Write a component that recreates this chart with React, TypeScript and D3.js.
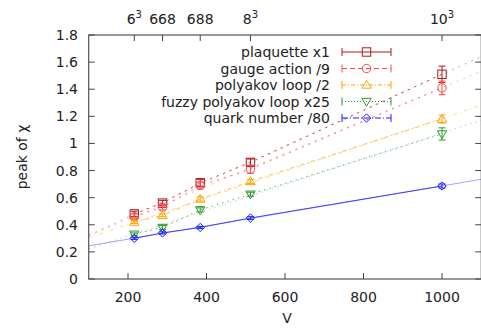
import React from "react";
import * as d3 from "d3";

const volumes = [216, 288, 384, 512, 1000];
const plaquette = [0.48, 0.56, 0.71, 0.86, 1.51];
const plaquetteErr = [0.02, 0.02, 0.025, 0.025, 0.06];
const gauge = [0.46, 0.53, 0.69, 0.81, 1.41];
const gaugeErr = [0.02, 0.02, 0.025, 0.03, 0.05];
const polyakov = [0.42, 0.47, 0.59, 0.72, 1.18];
const polyakovErr = [0.01, 0.01, 0.015, 0.015, 0.03];
const fuzzy = [0.33, 0.38, 0.51, 0.625, 1.07];
const fuzzyErr = [0.01, 0.015, 0.015, 0.015, 0.045];
const quark = [0.30, 0.34, 0.38, 0.45, 0.686];
const quarkErr = [0.008, 0.008, 0.008, 0.01, 0.015];

const xTicks = [200, 400, 600, 800, 1000];
const yTicks = [0, 0.2, 0.4, 0.6, 0.8, 1, 1.2, 1.4, 1.6, 1.8];
const topTicks = [216, 288, 384, 512, 1000];
const topLabels: [string, string][] = [["6", "3"], ["668", ""], ["688", ""], ["8", "3"], ["10", "3"]];

const seriesNames = ["plaquette x1", "gauge action /9", "polyakov loop /2", "fuzzy polyakov loop x25", "quark number /80"];

const W = 481;
const H = 329;
const FONT = "'DejaVu Sans', sans-serif";

type Series = {
  name: string;
  values: number[];
  errs: number[];
  color: string;
  legendDash: string;
  fitDash: string;
  marker: string;
};

const series: Series[] = [
  { name: seriesNames[0], values: plaquette, errs: plaquetteErr, color: "#b01818", legendDash: "", fitDash: "2,5", marker: "square" },
  { name: seriesNames[1], values: gauge, errs: gaugeErr, color: "#ff4a4a", legendDash: "5,3", fitDash: "2,5", marker: "circle" },
  { name: seriesNames[2], values: polyakov, errs: polyakovErr, color: "#ffa500", legendDash: "4,2,1,2", fitDash: "4,3,1,3", marker: "tri" },
  { name: seriesNames[3], values: fuzzy, errs: fuzzyErr, color: "#2a9a2a", legendDash: "1,2", fitDash: "1.5,4", marker: "tridown" },
  { name: seriesNames[4], values: quark, errs: quarkErr, color: "#1a1aff", legendDash: "6,2,1,2", fitDash: "", marker: "diamond" },
];

function linFit(xs: number[], ys: number[]) {
  const mx = d3.mean(xs) as number;
  const my = d3.mean(ys) as number;
  let num = 0, den = 0;
  xs.forEach((x, i) => { num += (x - mx) * (ys[i] - my); den += (x - mx) * (x - mx); });
  const b = num / den;
  return { a: my - b * mx, b };
}

function Marker({ type, x, y, color }: { type: string; x: number; y: number; color: string }) {
  const s = 4.2;
  if (type === "square") return <rect x={x - s} y={y - s} width={2 * s} height={2 * s} fill="none" stroke={color} strokeWidth={1} />;
  if (type === "circle") return <circle cx={x} cy={y} r={s} fill="none" stroke={color} strokeWidth={1} />;
  if (type === "tri") return <path d={`M${x},${y - s - 0.5}L${x + s + 0.5},${y + s - 1}L${x - s - 0.5},${y + s - 1}Z`} fill="none" stroke={color} strokeWidth={1} />;
  if (type === "tridown") return <path d={`M${x},${y + s + 0.5}L${x + s + 0.5},${y - s + 1}L${x - s - 0.5},${y - s + 1}Z`} fill="none" stroke={color} strokeWidth={1} />;
  return <path d={`M${x},${y - s}L${x + s},${y}L${x},${y + s}L${x - s},${y}Z`} fill="none" stroke={color} strokeWidth={1} />;
}

export default function App() {
  const x = d3.scaleLinear().domain([100, 1100]).range([88.75, 481.25]);
  const y = d3.scaleLinear().domain([0, 1.8]).range([279, 35]);
  const left = x(100), right = x(1100), top = y(1.8), bottom = y(0);
  const line = d3.line<[number, number]>().x(d => x(d[0])).y(d => y(d[1]));

  const legendX0 = 342, legendX1 = 391, legendTextX = 330;
  const legendY = (i: number) => 52 + i * 16.5;

  return (
    <svg width={W} height={H} style={{ position: "absolute", left: 0, top: 0, background: "#fff" }} fontFamily={FONT}>
      <defs>
        <clipPath id="plotclip"><rect x={left} y={top} width={right - left} height={bottom - top} /></clipPath>
      </defs>
      <g clipPath="url(#plotclip)">
        {series.map((s, i) => {
          const f = linFit(volumes, s.values);
          const pts: [number, number][] = [[100, f.a + f.b * 100], [1100, f.a + f.b * 1100]];
          return <path key={"fit" + i} d={line(pts) || ""} fill="none" stroke={s.color} strokeOpacity={0.4} strokeWidth={1} strokeDasharray={s.fitDash} />;
        })}
        {series.map((s, i) => {
          const pts: [number, number][] = volumes.map((v, j) => [v, s.values[j]]);
          return <path key={"dl" + i} d={line(pts) || ""} fill="none" stroke={s.color} strokeOpacity={0.75} strokeWidth={1} strokeDasharray={s.fitDash} />;
        })}
        {series.map((s, i) => (
          <g key={"pts" + i}>
            {volumes.map((v, j) => {
              const cx = x(v), cy = y(s.values[j]);
              const y1 = y(s.values[j] + s.errs[j]), y2 = y(s.values[j] - s.errs[j]);
              return (
                <g key={j}>
                  <line x1={cx} x2={cx} y1={y1} y2={y2} stroke={s.color} strokeWidth={1} />
                  <line x1={cx - 3.5} x2={cx + 3.5} y1={y1} y2={y1} stroke={s.color} strokeWidth={1} />
                  <line x1={cx - 3.5} x2={cx + 3.5} y1={y2} y2={y2} stroke={s.color} strokeWidth={1} />
                  <Marker type={s.marker} x={cx} y={cy} color={s.color} />
                </g>
              );
            })}
          </g>
        ))}
      </g>
      <rect x={left} y={top} width={right - left} height={bottom - top} fill="none" stroke="#333" strokeWidth={1} />
      {yTicks.map(t => (
        <g key={"yt" + t}>
          <line x1={left} x2={left + 6} y1={y(t)} y2={y(t)} stroke="#444" />
          <line x1={right - 6} x2={right} y1={y(t)} y2={y(t)} stroke="#444" />
          <text x={78} y={y(t) + 5} textAnchor="end" fontSize={14} fill="#222">{String(t)}</text>
        </g>
      ))}
      {xTicks.map(t => (
        <g key={"xt" + t}>
          <line x1={x(t)} x2={x(t)} y1={bottom} y2={bottom - 6} stroke="#444" />
          <text x={x(t)} y={302} textAnchor="middle" fontSize={14} fill="#222">{String(t)}</text>
        </g>
      ))}
      {topTicks.map((t, i) => (
        <g key={"tt" + t}>
          <line x1={x(t)} x2={x(t)} y1={top} y2={top + 6} stroke="#444" />
          <text x={x(t)} y={24} textAnchor="middle" fontSize={14} fill="#222">
            {topLabels[i][0]}
            {topLabels[i][1] ? <tspan fontSize={10} dy={-6}>{topLabels[i][1]}</tspan> : null}
          </text>
        </g>
      ))}
      <text x={287} y={323} textAnchor="middle" fontSize={14} fill="#222">V</text>
      <text transform={`translate(27,${(top + bottom) / 2}) rotate(-90)`} textAnchor="middle" fontSize={14} fill="#222">peak of χ</text>
      {series.map((s, i) => {
        const ly = legendY(i);
        const mx = (legendX0 + legendX1) / 2;
        return (
          <g key={"lg" + i}>
            <text x={legendTextX} y={ly + 5} textAnchor="end" fontSize={14} fill="#222">{s.name}</text>
            <line x1={legendX0} x2={legendX1} y1={ly} y2={ly} stroke={s.color} strokeWidth={1} strokeDasharray={s.legendDash} />
            <line x1={legendX0} x2={legendX0} y1={ly - 4} y2={ly + 4} stroke={s.color} strokeWidth={1} />
            <line x1={legendX1} x2={legendX1} y1={ly - 4} y2={ly + 4} stroke={s.color} strokeWidth={1} />
            <Marker type={s.marker} x={mx} y={ly} color={s.color} />
          </g>
        );
      })}
    </svg>
  );
}
